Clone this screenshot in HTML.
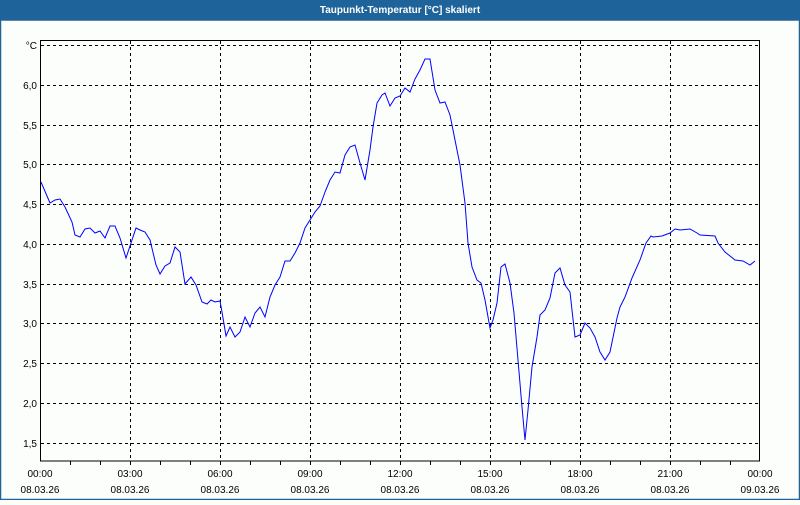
<!DOCTYPE html>
<html><head><meta charset="utf-8"><style>
body{margin:0;width:800px;height:500px;overflow:hidden;background:#fcfefc;font-family:"Liberation Sans",sans-serif}
</style></head><body>
<svg width="800" height="500" xmlns="http://www.w3.org/2000/svg" font-family="Liberation Sans, sans-serif" font-size="10">
<rect x="0" y="0" width="800" height="500" fill="#fcfefc"/>
<rect x="0" y="0" width="800" height="20" fill="#1e6399"/>
<text x="400" y="13" text-anchor="middle" fill="#fff" font-weight="bold" font-size="10">Taupunkt-Temperatur [°C] skaliert</text>
<rect x="0.5" y="20" width="799" height="479.5" fill="none" stroke="#1e6399" stroke-width="1.5"/>
<g stroke="#000" stroke-width="1" stroke-dasharray="3,3" fill="none">
<path d="M41 45.5H760M41 85.5H760M41 125.5H760M41 164.5H760M41 204.5H760M41 244.5H760M41 284.5H760M41 323.5H760M41 363.5H760M41 403.5H760M41 443.5H760"/>
<path d="M130.5 41V461M220.5 41V461M310.5 41V461M400.5 41V461M490.5 41V461M580.5 41V461M670.5 41V461"/>
</g>
<rect x="40.5" y="40.5" width="719" height="420.5" fill="none" stroke="#000"/>
<g stroke="#000">
<path d="M70.5 461V465M100.5 461V465M130.5 461V465M160.5 461V465M190.5 461V465M220.5 461V465M250.5 461V465M280.5 461V465M310.5 461V465M340.5 461V465M370.5 461V465M400.5 461V465M430.5 461V465M460.5 461V465M490.5 461V465M520.5 461V465M550.5 461V465M580.5 461V465M610.5 461V465M640.5 461V465M670.5 461V465M700.5 461V465M730.5 461V465"/>
</g>
<g fill="#000" text-anchor="end">
<text x="37" y="49">°C</text><text x="37" y="89">6,0</text><text x="37" y="129">5,5</text><text x="37" y="168">5,0</text><text x="37" y="208">4,5</text><text x="37" y="248">4,0</text><text x="37" y="288">3,5</text><text x="37" y="327">3,0</text><text x="37" y="367">2,5</text><text x="37" y="407">2,0</text><text x="37" y="447">1,5</text>
</g>
<g fill="#000" text-anchor="middle">
<text x="40" y="477">00:00</text><text x="40" y="493">08.03.26</text>
<text x="130" y="477">03:00</text><text x="130" y="493">08.03.26</text>
<text x="220" y="477">06:00</text><text x="220" y="493">08.03.26</text>
<text x="310" y="477">09:00</text><text x="310" y="493">08.03.26</text>
<text x="400" y="477">12:00</text><text x="400" y="493">08.03.26</text>
<text x="490" y="477">15:00</text><text x="490" y="493">08.03.26</text>
<text x="580" y="477">18:00</text><text x="580" y="493">08.03.26</text>
<text x="670" y="477">21:00</text><text x="670" y="493">08.03.26</text>
<text x="760" y="477">00:00</text><text x="760" y="493">09.03.26</text>
</g>
<polyline fill="none" stroke="#0000ff" stroke-width="1" points="41,182 50,203 55,200 60,199 65,207 72,222 75,235 80,237 85,229 90,228 95,233 100,231 105,238 110,226 115,226 120,238 126,258 131,243 136,228 140,230 145,232 150,240 156,265 160,274 165,266 170,263 175,247 180,252 185,284 191,277 196,285 202,302 207,304 211,300 215,302 220,301 222,312 226,336 230,327 235,337 240,332 245,317 250,327 255,313 260,307 265,317 270,297 275,285 280,277 285,261 290,261 295,253 300,243 305,228 310,220 315,212 320,206 325,192 330,180 335,172 340,173 345,155 350,147 355,145 360,163 365,180 370,150 373,127 377,103 382,95 385,93 390,106 395,98 400,96 405,88 410,92 415,79 420,70 425,59 430,59 435,90 440,103 445,102 450,115 455,140 460,165 465,203 468,243 472,267 477,280 481,283 485,300 490,328 493,320 497,303 501,267 505,264 510,283 514,313 518,360 522,407 525,440 528,410 532,367 537,337 540,315 545,310 550,298 555,273 560,268 565,285 570,292 575,337 580,335 585,323 590,328 595,337 600,352 605,360 610,352 617,318 620,307 625,297 632,278 640,260 646,243 651,236 653,237 662,236 670,233 675,229 680,230 690,229 697,233 700,235 715,236 718,243 725,252 735,260 743,261 750,265 755,261"/>
</svg>
</body></html>
